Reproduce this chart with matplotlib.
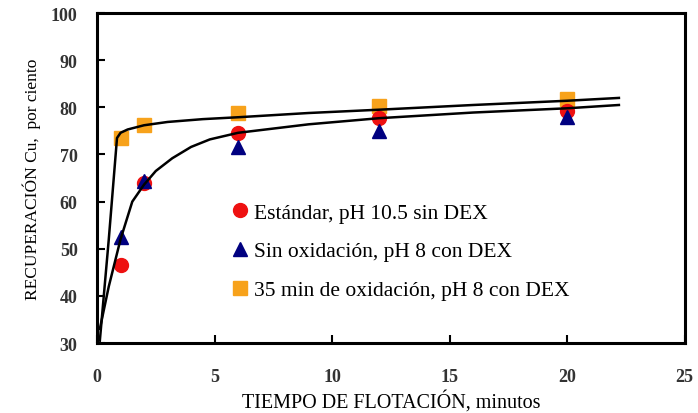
import matplotlib
matplotlib.use("Agg")
import matplotlib.pyplot as plt

# Data
tiempo = [1, 2, 6, 12, 20]
estandar = [46.6, 64.0, 74.5, 77.8, 79.2]
sin_oxid = [52.5, 64.4, 71.6, 75.0, 78.0]
oxid_35 = [73.6, 76.3, 78.8, 80.2, 81.7]

labels = ["Estándar, pH 10.5 sin DEX",
          "Sin oxidación, pH 8 con DEX",
          "35 min de oxidación, pH 8 con DEX"]

# Fitted curves
curva_sup_x = [0.12, 0.5, 0.85, 1.0, 1.3, 2.0, 3.0, 4.5, 6.0, 9.0, 12.0, 16.0, 20.0, 22.2]
curva_sup_y = [30.5, 52.0, 73.5, 74.6, 75.3, 76.2, 76.9, 77.5, 77.9, 78.8, 79.5, 80.5, 81.4, 82.0]
curva_inf_x = [0.12, 0.5, 1.0, 1.5, 2.0, 2.5, 3.2, 4.0, 4.8, 6.0, 9.0, 12.0, 16.0, 20.0, 22.2]
curva_inf_y = [33.0, 42.0, 52.0, 60.0, 63.6, 66.5, 69.2, 71.6, 73.2, 74.6, 76.4, 77.7, 78.9, 79.8, 80.5]

plt.rcParams['font.family'] = ['Liberation Serif', 'DejaVu Serif']

fig = plt.figure(figsize=(6.98, 4.14), dpi=100)
ax = fig.add_axes([0.139, 0.169, 0.842, 0.797])

ax.plot(curva_sup_x, curva_sup_y, color='black', lw=1.8, zorder=4)
ax.plot(curva_inf_x, curva_inf_y, color='black', lw=1.8, zorder=4)

h3, = ax.plot(tiempo, oxid_35, linestyle='none', marker='s', color='#F7A21B',
              markersize=10, zorder=3, label=labels[2])
h1, = ax.plot(tiempo, estandar, linestyle='none', marker='o', color='#EE1111',
              markersize=10, zorder=3, label=labels[0])
h2, = ax.plot(tiempo, sin_oxid, linestyle='none', marker='^', color='#000080',
              markersize=10, zorder=3, label=labels[1])

ax.set_xlim(0, 25)
ax.set_ylim(30, 100)
ax.set_xticks([0, 5, 10, 15, 20, 25])
ax.set_yticks([30, 40, 50, 60, 70, 80, 90, 100])
ax.tick_params(direction='in', length=6, width=1.5, labelsize=13,
               top=False, right=False)
ax.tick_params(axis='y', pad=14)
ax.tick_params(axis='x', pad=18)
for lab in ax.get_xticklabels() + ax.get_yticklabels():
    lab.set_fontweight('bold')
    lab.set_color('#333333')
for s in ax.spines.values():
    s.set_linewidth(2.2)

ax.set_xlabel("TIEMPO DE FLOTACIÓN, minutos", fontsize=14.5, labelpad=3)
ax.set_ylabel("RECUPERACIÓN Cu,  por ciento", fontsize=12.5, labelpad=7)

leg = ax.legend(handles=[h1, h2, h3], loc='upper left', bbox_to_anchor=(0.21, 0.465),
                frameon=False, fontsize=15.5, handlelength=0.6, handletextpad=0.35,
                labelspacing=0.87, markerscale=1.0, borderaxespad=0.2)

fig.savefig("out.png", dpi=100)
